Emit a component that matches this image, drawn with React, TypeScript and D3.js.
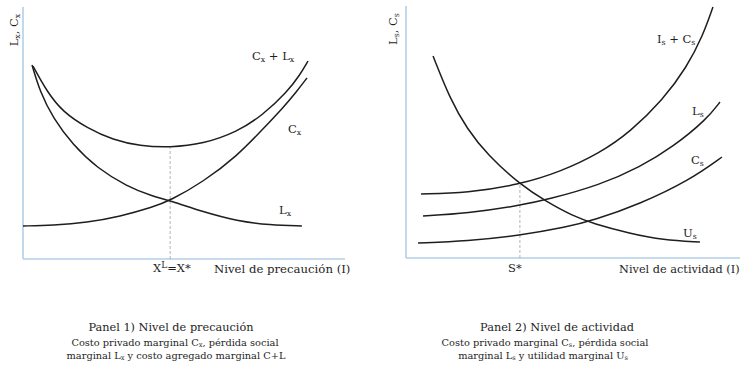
import React from "react";
import * as d3 from "d3";

// Panel 1: precaution level (x) vs marginal cost / loss
const precTotal: [number, number][] = [
  [3.1, 77.2], [7.5, 66.8], [12.4, 58.8], [19.9, 52.4], [28.0, 47.6], [36.3, 45.2],
  [45.7, 44.6], [55.9, 46.0], [66.5, 50.8], [74.5, 57.6], [82.0, 66.8], [86.0, 73.6], [88.5, 79.2],
];
const precLoss: [number, number][] = [
  [2.8, 77.6], [5.3, 66.8], [9.3, 56.4], [15.5, 45.6], [23.0, 36.4], [32.3, 29.0],
  [40.4, 25.0], [45.7, 23.4], [55.9, 18.8], [66.5, 15.2], [76.7, 13.6], [86.6, 13.2],
];
const precCost: [number, number][] = [
  [0, 13.2], [9.3, 13.5], [19.9, 14.6], [30.1, 17.0], [40.4, 20.8], [45.7, 23.4],
  [55.9, 30.8], [66.5, 41.2], [74.5, 52.0], [80.7, 60.4], [85.1, 67.2], [88.2, 72.4],
];
const precOptimum = { x: 45.7, y: 44.6 };

// Panel 2: activity level (s)
const actTotal: [number, number][] = [
  [4.5, 25.6], [18.3, 26.0], [34.1, 29.4], [46.1, 34.4], [58.1, 42.0], [67.1, 50.4],
  [76.9, 63.2], [84.1, 76.4], [88.9, 89.0], [91.9, 100.4],
];
const actLoss: [number, number][] = [
  [5.1, 16.8], [18.3, 17.8], [34.1, 21.0], [42.5, 23.4], [58.1, 29.2], [70.1, 36.4],
  [79.9, 44.4], [90.1, 55.6], [94.0, 62.4],
];
const actCost: [number, number][] = [
  [3.6, 6.0], [18.3, 6.8], [34.1, 9.0], [48.2, 12.4], [56.0, 15.0], [70.1, 21.6],
  [85.0, 31.2], [94.6, 40.4],
];
const actUtility: [number, number][] = [
  [8.1, 80.8], [13.2, 63.6], [18.3, 51.6], [24.3, 41.4], [34.1, 29.4], [42.2, 22.4],
  [50.0, 16.8], [56.0, 13.8], [67.1, 9.8], [76.9, 7.2], [88.0, 6.4],
];
const actOptimum = { x: 34.1, y: 29.4 };

const SERIF = "'DejaVu Serif', 'Liberation Serif', serif";
const AXIS = "#b3cfe9";
const INK = "#1e1e1e";

// Text with subscripts: parts as [text, isSub]
function Rich({ parts, size = 12 }: { parts: [string, boolean][]; size?: number }) {
  return (
    <>
      {parts.map(([t, sub], i) => (
        <tspan key={i} fontSize={sub ? size * 0.68 : size} baselineShift={sub ? "-20%" : undefined}>
          {t}
        </tspan>
      ))}
    </>
  );
}

function Panel({
  x0, x1, y0, y1, curves, optimum,
}: {
  x0: number; x1: number; y0: number; y1: number;
  curves: [number, number][][];
  optimum: { x: number; y: number };
}) {
  const xs = d3.scaleLinear().domain([0, 100]).range([x0, x1]);
  const ys = d3.scaleLinear().domain([0, 100]).range([y0, y1]);
  const line = d3
    .line<[number, number]>()
    .x((d) => xs(d[0]))
    .y((d) => ys(d[1]))
    .curve(d3.curveBasis);
  return (
    <g>
      <line x1={xs(0)} x2={xs(0)} y1={ys(0)} y2={y1 - 2} stroke={AXIS} strokeWidth={1.6} />
      <line x1={xs(0)} x2={xs(100)} y1={ys(0)} y2={ys(0)} stroke={AXIS} strokeWidth={1.6} />
      <line
        x1={xs(optimum.x)} x2={xs(optimum.x)} y1={ys(0)} y2={ys(optimum.y)}
        stroke="#aaaaaa" strokeWidth={0.9} strokeDasharray="3,2"
      />
      {curves.map((c, i) => (
        <path key={i} d={line(c) || ""} fill="none" stroke={INK} strokeWidth={1.5} />
      ))}
    </g>
  );
}

export default function App() {
  return (
    <svg width={743} height={370} style={{ position: "absolute", left: 0, top: 0, background: "#fff" }}>
      <rect width={743} height={370} fill="#fff" />
      <g fontFamily={SERIF} fill={INK}>
        {/* Panel 1 */}
        <Panel x0={23} x1={345} y0={259} y1={9} curves={[precTotal, precLoss, precCost]} optimum={precOptimum} />
        <text transform="translate(18,30) rotate(-90)" textAnchor="middle">
          <Rich parts={[["L", false], ["x", true], [", C", false], ["x", true]]} size={11.5} />
        </text>
        <text x={252} y={60}>
          <Rich parts={[["C", false], ["x", true], [" + L", false], ["x", true]]} size={11.5} />
        </text>
        <text x={288} y={133}>
          <Rich parts={[["C", false], ["x", true]]} size={11.5} />
        </text>
        <text x={279} y={214}>
          <Rich parts={[["L", false], ["x", true]]} size={11.5} />
        </text>
        <text x={153} y={272} fontSize={11.5}>
          X<tspan baselineShift="40%" fontSize={9}>L</tspan>=X*
        </text>
        <text x={214} y={273} fontSize={11.7}>Nivel de precaución (I)</text>

        <text x={171} y={331} fontSize={11.3} textAnchor="middle">Panel 1) Nivel de precaución</text>
        <text x={175} y={346} textAnchor="middle">
          <Rich size={9.8} parts={[["Costo privado marginal C", false], ["x", true], [", pérdida social", false]]} />
        </text>
        <text x={176} y={359} textAnchor="middle">
          <Rich size={9.8} parts={[["marginal L", false], ["x", true], [" y costo agregado marginal C+L", false]]} />
        </text>

        {/* Panel 2 */}
        <Panel x0={406} x1={740} y0={258} y1={8} curves={[actTotal, actLoss, actCost, actUtility]} optimum={actOptimum} />
        <text transform="translate(397,29) rotate(-90)" textAnchor="middle">
          <Rich parts={[["L", false], ["s", true], [", C", false], ["s", true]]} size={11.5} />
        </text>
        <text x={657} y={43}>
          <Rich parts={[["I", false], ["s", true], [" + C", false], ["s", true]]} size={11.5} />
        </text>
        <text x={692} y={115}>
          <Rich parts={[["L", false], ["s", true]]} size={11.5} />
        </text>
        <text x={691} y={164}>
          <Rich parts={[["C", false], ["s", true]]} size={11.5} />
        </text>
        <text x={683} y={237}>
          <Rich parts={[["U", false], ["s", true]]} size={11.5} />
        </text>
        <text x={508} y={272} fontSize={11.5}>S*</text>
        <text x={619} y={273} fontSize={11.3}>Nivel de actividad (I)</text>

        <text x={557} y={331} fontSize={11.3} textAnchor="middle">Panel 2) Nivel de actividad</text>
        <text x={545} y={346} textAnchor="middle">
          <Rich size={9.8} parts={[["Costo privado marginal C", false], ["s", true], [", pérdida social", false]]} />
        </text>
        <text x={543} y={359} textAnchor="middle">
          <Rich size={9.8} parts={[["marginal L", false], ["s", true], [" y utilidad marginal U", false], ["s", true]]} />
        </text>
      </g>
    </svg>
  );
}
